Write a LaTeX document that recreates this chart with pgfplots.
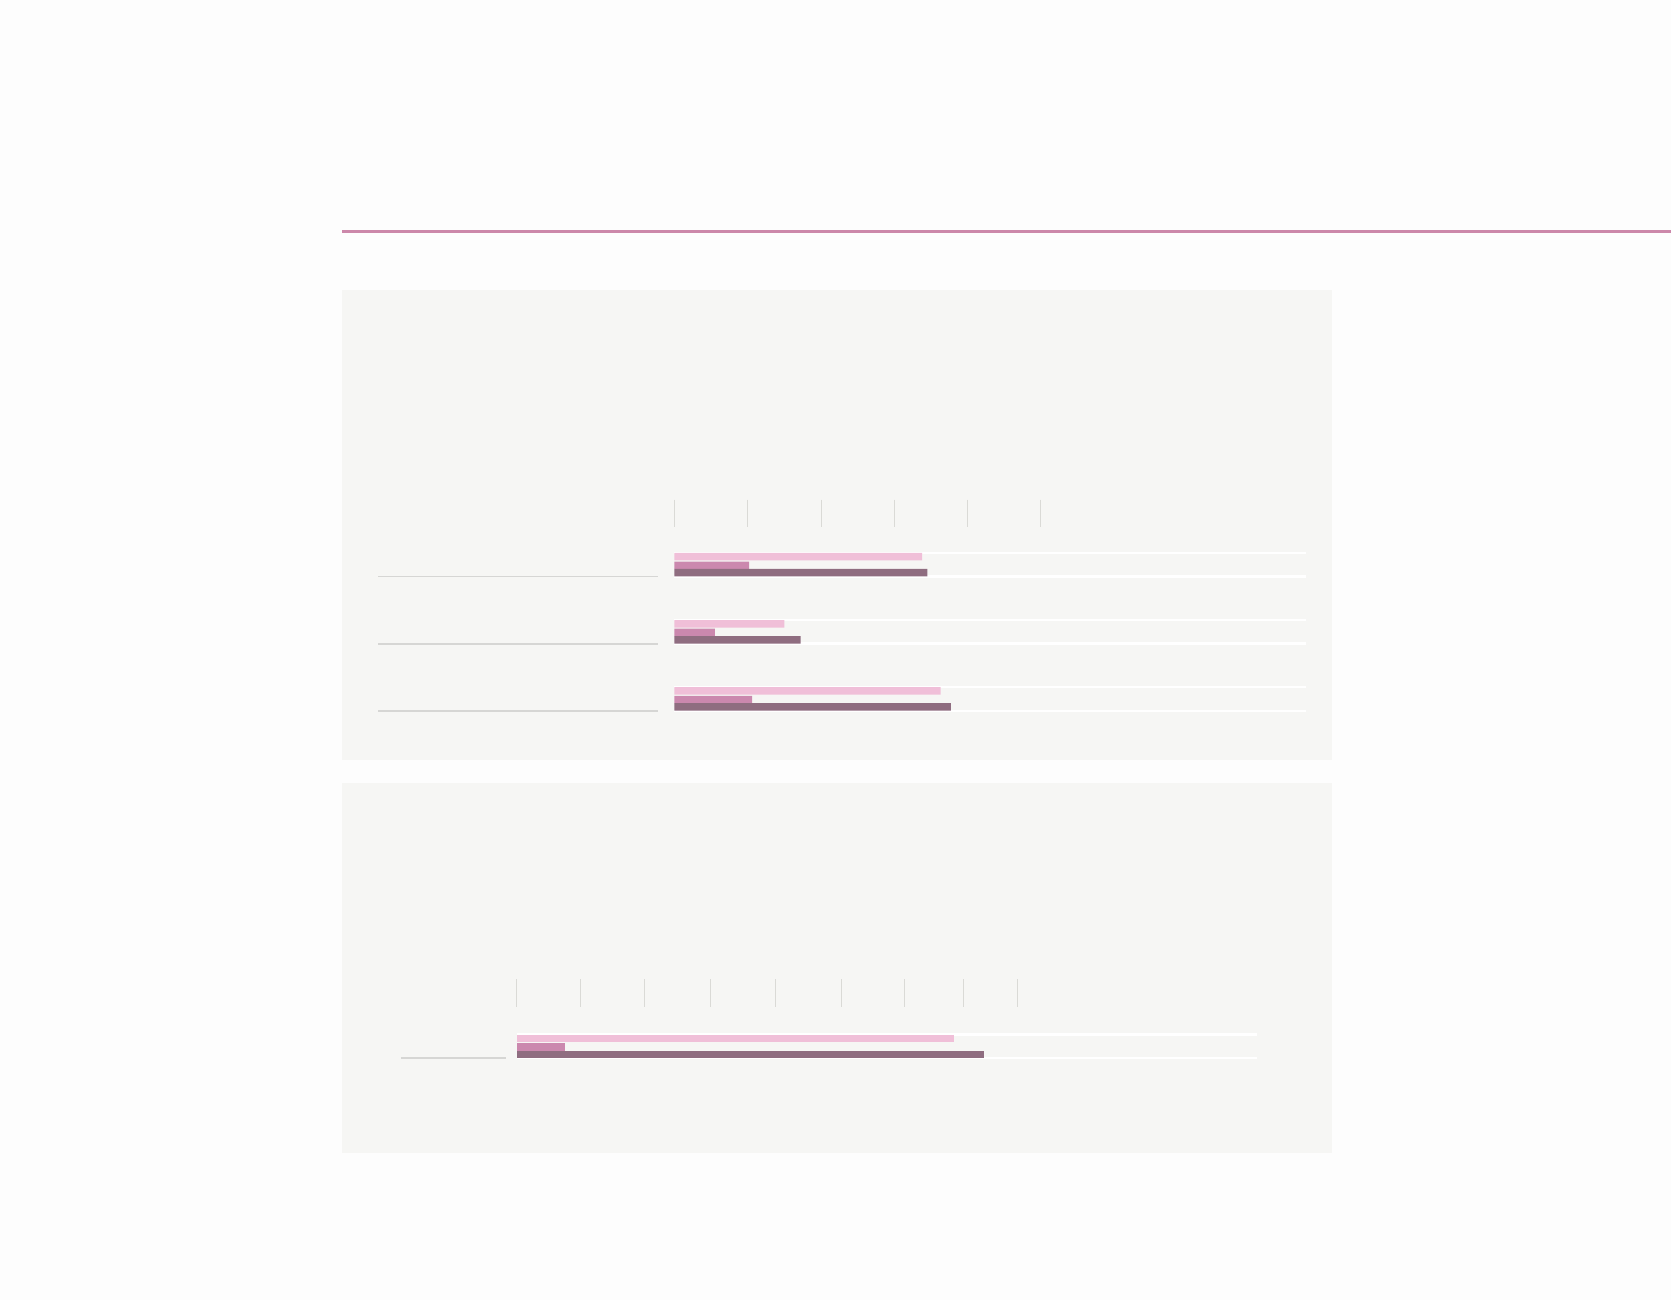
\documentclass[border=0pt]{standalone}
\usepackage{pgfplots}
\pgfplotsset{compat=1.18}

\definecolor{pagebg}{HTML}{FDFDFD}
\definecolor{panelbg}{HTML}{F6F6F4}
\definecolor{rule}{HTML}{CC88AA}
\definecolor{barlight}{HTML}{F0BFD8}
\definecolor{barmid}{HTML}{CB88AE}
\definecolor{bardark}{HTML}{8F6D80}
\definecolor{sepgray}{HTML}{D6D6D4}
\definecolor{tickgray}{HTML}{DADAD6}

\pgfplotsset{
  panelbars/.style={
    scale only axis,
    xbar, bar width=0.111,
    xmin=0, ymin=0,
    axis line style={draw=none},
    axis x line*=top,
    tick align=inside,
    xticklabels={}, yticklabels={},
    x tick style={color=tickgray, line width=0.25pt},
    major tick length=2.6mm,
    y tick style={draw=none},
    ymajorgrids,
    grid style={white, line width=0.6pt},
    clip=false,
  },
  light/.style={fill=barlight, draw=none, bar shift=0.294},
  mid/.style={fill=barmid, draw=none, bar shift=0.167},
  dark/.style={fill=bardark, draw=none, bar shift=0.056},
}

\begin{document}
\begin{tikzpicture}
% page and panels
\fill[pagebg] (0,0) rectangle (15.68cm,12.20cm);
\draw[rule, line width=0.7pt] (3.21cm,10.03cm) -- (15.68cm,10.03cm);
\fill[panelbg] (3.21cm,5.07cm) rectangle (12.50cm,9.48cm);
\fill[panelbg] (3.21cm,1.38cm) rectangle (12.50cm,4.85cm);

% upper panel: three groups
\begin{axis}[panelbars,
    at={(6.33cm,5.53cm)}, anchor=south west,
    width=5.93cm, height=1.98cm,
    xmax=86.2, ymax=3.143,
    xtick={0,10,20,30,40,50},
    ytick={0,0.349,1,1.349,2,2.349},
]
\addplot[light] coordinates {(33.8,2) (15.0,1) (36.3,0)};
\addplot[mid]   coordinates {(10.2,2) (5.5,1) (10.6,0)};
\addplot[dark]  coordinates {(34.5,2) (17.2,1) (37.7,0)};
\foreach \g in {0,1,2}{
  \edef\tmp{\noexpand\draw[sepgray, line width=0.5pt] (axis cs:-40.4,\g) -- (axis cs:-2.3,\g);}
  \tmp
}
\end{axis}

% lower panel: one group
\begin{axis}[panelbars,
    at={(4.85cm,2.27cm)}, anchor=south west,
    width=6.95cm, height=0.74cm,
    xmax=11.64, ymax=1.175,
    xtick={0,1,2,3.04,4.072,5.104,6.096,7.016,7.864},
    ytick={0,0.349},
]
\addplot[light] coordinates {(6.872,0)};
\addplot[mid]   coordinates {(0.752,0)};
\addplot[dark]  coordinates {(7.344,0)};
\draw[sepgray, line width=0.5pt] (axis cs:-1.82,0) -- (axis cs:-0.17,0);
\end{axis}
\end{tikzpicture}
\end{document}
